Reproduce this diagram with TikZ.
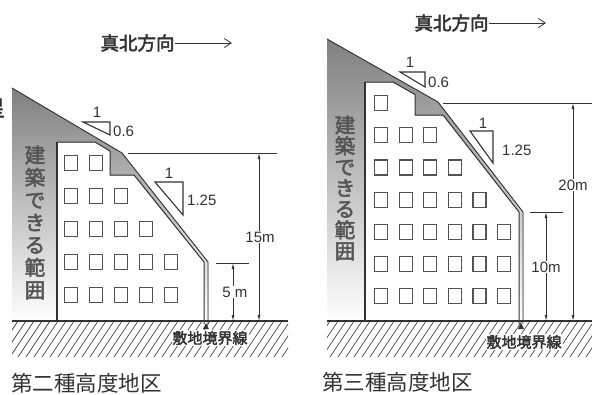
\documentclass[tikz,border=0pt]{standalone}
\usepackage{fontspec}
\setmainfont{Liberation Sans}
\newfontfamily\jp{Noto Sans CJK JP}[AutoFakeBold=2.5]
\usetikzlibrary{arrows.meta}
\definecolor{ink}{HTML}{333333}
\definecolor{shade}{HTML}{CBCBCB}
\definecolor{vtxt}{HTML}{555555}
\tikzset{
  env/.style={draw=ink, line width=0.9pt, line join=round},
  bldg/.style={draw=ink, line width=1pt, line join=round},
  win/.style={draw=ink!85, line width=1.2pt, minimum width=13pt, minimum height=15pt, inner sep=0pt},
  hatchline/.style={draw=ink!90, line width=0.7pt},
  extline/.style={draw=ink, line width=0.8pt},
  dimarr/.style={draw=ink, line width=0.8pt, {Latex[length=6pt,width=3pt]}-{Latex[length=6pt,width=3pt]}},
  dimlbl/.style={fill=white, inner sep=1pt, font=\fontsize{15}{15}\selectfont, text=ink},
  slopelbl/.style={font=\fontsize{15}{15}\selectfont, text=ink, inner sep=0pt},
  slopetri/.style={draw=ink, line width=1.1pt, line join=miter},
  vtext/.style={font=\jp\bfseries\fontsize{20.5}{22.5}\selectfont, text=vtxt, align=center, inner sep=0pt},
  titletext/.style={font=\jp\bfseries\fontsize{18.5}{18.5}\selectfont, text=ink, inner sep=0pt},
  titlearrow/.style={draw=ink, line width=0.8pt, -{Straight Barb[length=7pt,width=9pt]}},
  captiontext/.style={font=\jp\fontsize{21.5}{21.5}\selectfont, text=ink, inner sep=0pt, anchor=west},
  boundtext/.style={font=\jp\bfseries\fontsize{15}{15}\selectfont, fill=white, inner sep=1pt, text=ink},
}
\begin{document}
\begin{tikzpicture}[x=1pt,y=-1pt]
\useasboundingbox (0,0) rectangle (592,394);
\fill[white] (0,0) rectangle (592,394);

% partial glyph cut at the left edge
\node[font=\jp\bfseries\fontsize{22}{22}\selectfont, text=ink, inner sep=0pt] (cut) at (-6,108) {星};

% ================= LEFT PANEL =================
\node[titletext] (tL) at (137.5,43) {真北方向};
\coordinate (tLend) at (232,43);
\draw[titlearrow] (tL.east) -- (tLend);

% hatching
\begin{scope}
\clip (12,321) rectangle (288,357);
\foreach \x in {-30,-22,...,290} \draw[hatchline] (\x,357) -- (\x+24,321);
\end{scope}

% shaded buildable area
\fill[shade] (12,88) -- (122,153) -- (208,262) -- (208,321) -- (204,321) -- (204,262)
  -- (134,175) -- (110,175) -- (110,151) -- (95,142) -- (57,142) -- (57,321) -- (12,321) -- cycle;
% envelope
\draw[env] (12,88) -- (122,153) -- (208,262) -- (208,324);
% building
\draw[bldg] (57,321) -- (57,142) -- (95,142) -- (110,151) -- (110,175) -- (134,175) -- (204,262) -- (204,324);
\draw[ink, line width=1.3pt] (57,321) -- (57,142);
% ground
\draw[ink, line width=1.1pt] (12,321) -- (288,321);

% windows
\foreach \y/\n [count=\r] in {163/2,196/3,229/4,262/5,295/5}{
  \foreach \c in {1,...,\n}{
    \node[win] (wL\r\c) at ({71+25*(\c-1)},\y) {};
  }
}

% vertical text
\node[vtext] (vL) at (35,222.5) {建\\築\\で\\き\\る\\範\\囲};

% slope triangles
\draw[slopetri] (83,122) -- (110,122) -- (110,135) -- cycle;
\node[slopelbl] (s1a) at (97,112) {1};
\node[slopelbl, anchor=west] (s1b) at (113,131) {0.6};
\draw[slopetri] (155,182) -- (183,182) -- (183,215) -- cycle;
\node[slopelbl] (s2a) at (169,173) {1};
\node[slopelbl, anchor=west] (s2b) at (187,200) {1.25};

% dimensions
\coordinate (e15a) at (128,153); \coordinate (e15b) at (277,153);
\draw[extline] (e15a) -- (e15b);
\coordinate (d15t) at (259,153); \coordinate (d15b) at (259,321);
\draw[dimarr] (d15t) -- (d15b);
\node[dimlbl] (l15) at (260,237) {15m};
\coordinate (e5a) at (216,263); \coordinate (e5b) at (249,263);
\draw[extline] (e5a) -- (e5b);
\coordinate (d5t) at (233,263); \coordinate (d5b) at (233,321);
\draw[dimarr] (d5t) -- (d5b);
\node[dimlbl] (l5) at (235,292) {5 m};

% boundary
\fill[ink] (206,323) -- (203,329) -- (209,329) -- cycle;
\node[boundtext] (bL) at (210,338) {敷地境界線};

\node[captiontext] (cL) at (11,383) {第二種高度地区};

% ================= RIGHT PANEL =================
\node[titletext] (tR) at (451.5,23) {真北方向};
\coordinate (tRend) at (546,23);
\draw[titlearrow] (tR.east) -- (tRend);

\begin{scope}
\clip (327,321) rectangle (592,357);
\foreach \x in {290,298,...,600} \draw[hatchline] (\x,357) -- (\x+24,321);
\end{scope}

\fill[shade] (327,39) -- (438,102) -- (523,212) -- (523,321) -- (519,321) -- (519,212)
  -- (443,115) -- (415,115) -- (415,94.5) -- (393,82) -- (365,82) -- (365,321) -- (327,321) -- cycle;
\draw[env] (327,39) -- (438,102) -- (523,212) -- (523,324);
\draw[bldg] (365,321) -- (365,82) -- (393,82) -- (415,94.5) -- (415,115) -- (443,115) -- (519,212) -- (519,324);
\draw[ink, line width=1.3pt] (365,321) -- (365,82);
\draw[ink, line width=1.1pt] (327,321) -- (592,321);

\foreach \y/\n [count=\r] in {103/1,135.2/3,167.4/4,199.6/5,231.8/6,264/6,296.2/6}{
  \foreach \c in {1,...,\n}{
    \node[win] (wR\r\c) at ({381+24.6*(\c-1)},\y) {};
  }
}

\node[vtext, font=\jp\bfseries\fontsize{20.5}{21}\selectfont] (vR) at (345,188) {建\\築\\で\\き\\る\\範\\囲};

\draw[slopetri] (400,72) -- (425,72) -- (425,87) -- cycle;
\node[slopelbl] (s3a) at (410,62) {1};
\node[slopelbl, anchor=west] (s3b) at (428,82) {0.6};
\draw[slopetri] (470,131) -- (493,131) -- (493,163) -- cycle;
\node[slopelbl] (s4a) at (483,123) {1};
\node[slopelbl, anchor=west] (s4b) at (502,150) {1.25};

\coordinate (e20a) at (443,103); \coordinate (e20b) at (592,103);
\draw[extline] (e20a) -- (e20b);
\coordinate (d20t) at (573,103); \coordinate (d20b) at (573,321);
\draw[dimarr] (d20t) -- (d20b);
\node[dimlbl] (l20) at (573,185) {20m};
\coordinate (e10a) at (530,212); \coordinate (e10b) at (563,212);
\draw[extline] (e10a) -- (e10b);
\coordinate (d10t) at (546,212); \coordinate (d10b) at (546,321);
\draw[dimarr] (d10t) -- (d10b);
\node[dimlbl] (l10) at (546,267) {10m};

\fill[ink] (521,323) -- (518,329) -- (524,329) -- cycle;
\node[boundtext] (bR) at (524,342) {敷地境界線};

\node[captiontext] (cR) at (322,382) {第三種高度地区};
\end{tikzpicture}
\end{document}
